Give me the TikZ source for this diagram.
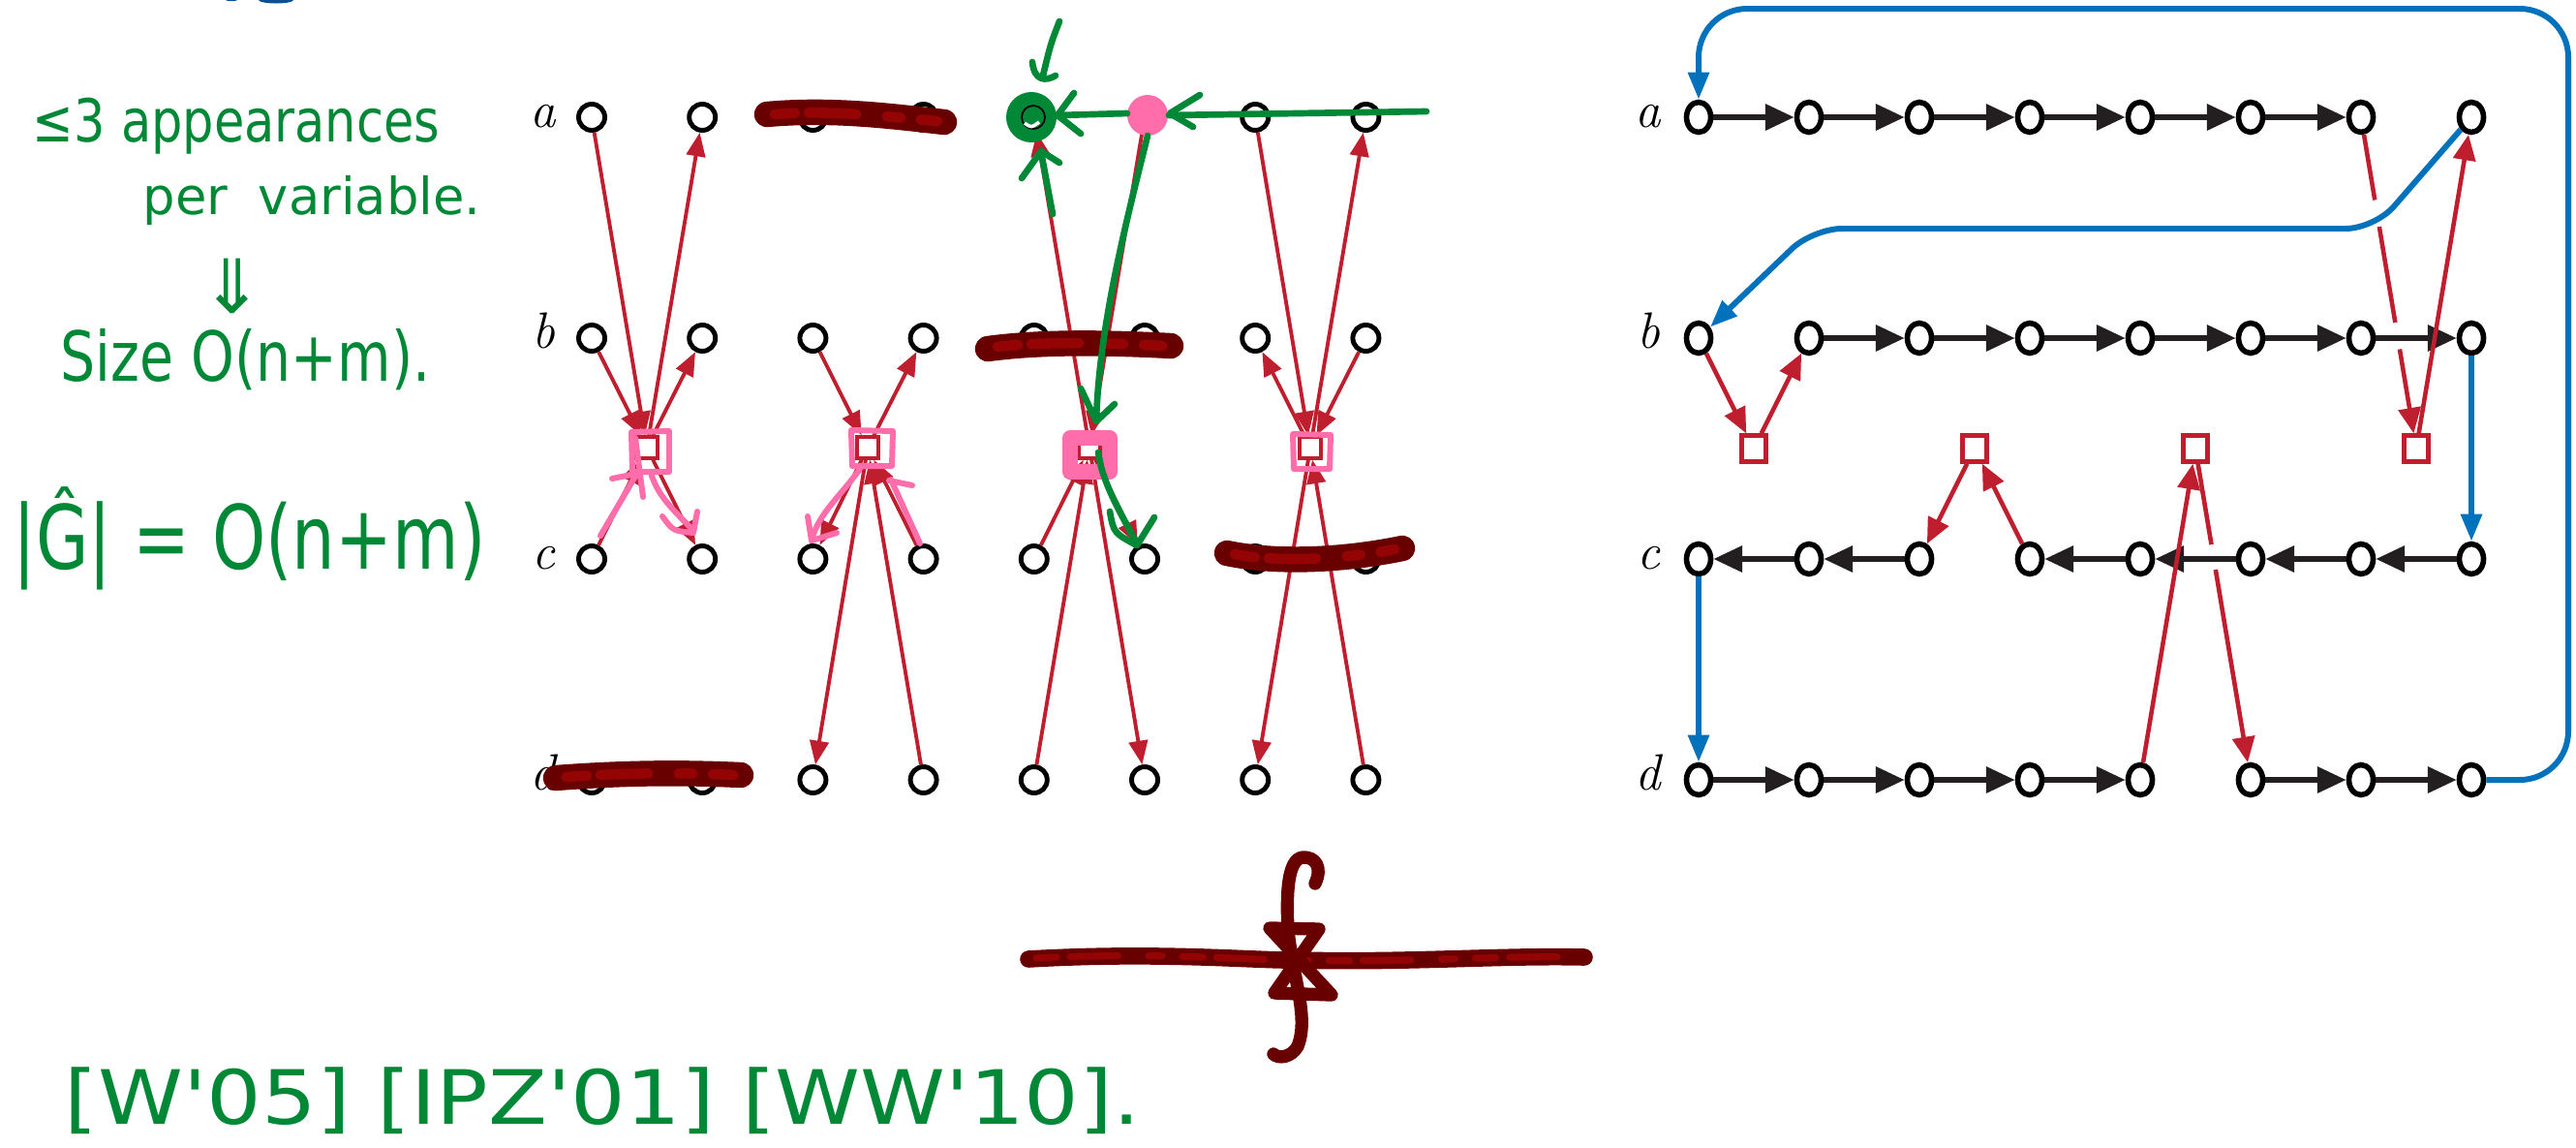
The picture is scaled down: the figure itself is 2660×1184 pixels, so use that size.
\documentclass[tikz,border=0pt]{standalone}
\usepackage{fontspec}
\usepackage{graphicx}
\newfontfamily\hand{DejaVu Sans}
\usetikzlibrary{arrows.meta,shapes.geometric,calc}
\definecolor{cred}{RGB}{190,30,45}
\definecolor{cblue}{RGB}{0,114,188}
\definecolor{cblack}{RGB}{35,31,32}
\definecolor{cgreen}{RGB}{0,136,55}
\definecolor{cpink}{RGB}{255,110,170}
\definecolor{scrib}{RGB}{105,0,0}
\definecolor{scribhi}{RGB}{215,10,10}
\definecolor{hblue}{RGB}{10,80,150}
\begin{document}
\begin{tikzpicture}[x=0.01cm,y=-0.01cm,
  lnode/.style={circle,draw=black,line width=1.4pt,minimum size=0.27cm,inner sep=0pt,fill=white},
  lsq/.style={rectangle,draw=cred,line width=0.9pt,minimum size=0.22cm,inner sep=0pt,fill=white},
  rnode/.style={ellipse,draw=black,line width=1.6pt,minimum width=0.25cm,minimum height=0.31cm,inner sep=0pt,fill=white},
  rsq/.style={rectangle,draw=cred,line width=1.2pt,minimum width=0.25cm,minimum height=0.27cm,inner sep=0pt,fill=white},
  lab/.style={font=\fontsize{15}{17}\selectfont\itshape,inner sep=0pt},
  redarr/.style={draw=cred,line width=1.1pt,-{Triangle[length=7pt,width=5.5pt]}},
  rredarr/.style={draw=cred,line width=1.3pt,-{Triangle[length=7.5pt,width=6.5pt]}},
  blkarr/.style={draw=cblack,line width=1.6pt,-{Triangle[length=8.5pt,width=7.5pt]}},
  bluearr/.style={draw=cblue,line width=1.7pt,-{Triangle[length=8pt,width=6pt]}},
  gapcut/.style={draw=white,line width=3pt},
  scribble/.style={draw=scrib,line width=7.5pt,line cap=round},
  scribhl/.style={draw=scribhi,opacity=0.4,line width=3pt,line cap=round,dash pattern=on 6pt off 4pt on 14pt off 9pt on 4pt off 6pt},
  pinkline/.style={draw=cpink,line width=1.7pt,line cap=round,line join=round},
  greenline/.style={draw=cgreen,line width=1.9pt,line cap=round,line join=round},
  handtxt/.style={text=cgreen,inner sep=0pt,anchor=base west}
]
\useasboundingbox (0,0) rectangle (2660,1184);

% ---------------- nodes ----------------
\foreach \r/\y in {a/121,b/349,c/577,d/805}{
  \node[lab,anchor=base] (Ll\r) at (561,{\y+10}) {\r};
  \node[lab,anchor=base] (Lr\r) at (1702,{\y+10}) {\r};
  \foreach \k in {1,...,8}{
    \node[lnode] (l\r\k) at ({611+114.2*(\k-1)},\y) {};
    \node[rnode] (r\r\k) at ({1754+114*(\k-1)},\y) {};
  }
}
\node[lsq] (ls1) at (668,462) {};
\node[lsq] (ls2) at (896,462) {};
\node[lsq] (ls3) at (1125,462) {};
\node[lsq] (ls4) at (1353,462) {};
\node[rsq] (rs1) at (1811,463) {};
\node[rsq] (rs2) at (2039,463) {};
\node[rsq] (rs3) at (2267,463) {};
\node[rsq] (rs4) at (2495,463) {};

% ---------------- left graph edges ----------------
\draw[redarr] (la1) -- (ls1); \draw[redarr] (ls1) -- (la2);
\draw[redarr] (lb1) -- (ls1); \draw[redarr] (ls1) -- (lb2);
\draw[redarr] (lc1) -- (ls1); \draw[redarr] (ls1) -- (lc2);
\draw[redarr] (lb3) -- (ls2); \draw[redarr] (ls2) -- (lb4);
\draw[redarr] (ls2) -- (lc3); \draw[redarr] (lc4) -- (ls2);
\draw[redarr] (ls2) -- (ld3); \draw[redarr] (ld4) -- (ls2);
\draw[redarr] (la6) -- (ls3); \draw[redarr] (ls3) -- (la5);
\draw[redarr] (lc5) -- (ls3); \draw[redarr] (ls3) -- (lc6);
\draw[redarr] (ld5) -- (ls3); \draw[redarr] (ls3) -- (ld6);
\draw[redarr] (la7) -- (ls4); \draw[redarr] (ls4) -- (la8);
\draw[redarr] (ls4) -- (lb7); \draw[redarr] (lb8) -- (ls4);
\draw[redarr] (ls4) -- (ld7); \draw[redarr] (ld8) -- (ls4);

% ---------------- right graph edges ----------------
\foreach \i/\j in {1/2,2/3,3/4,4/5,5/6,6/7}{\draw[blkarr] (ra\i) -- (ra\j);}
\foreach \i/\j in {2/3,3/4,4/5,5/6,6/7}{\draw[blkarr] (rb\i) -- (rb\j);}
\foreach \i/\j in {2/1,3/2,5/4,7/6,8/7}{\draw[blkarr] (rc\i) -- (rc\j);}
\foreach \i/\j in {1/2,2/3,3/4,4/5,6/7,7/8}{\draw[blkarr] (rd\i) -- (rd\j);}

\draw[rredarr] (ra7) -- (rs4);
\draw[rredarr] (rs3) -- (rd6);
\draw[gapcut] ($(ra7)!0.25!(rs4)$) -- ($(ra7)!0.33!(rs4)$);
\draw[gapcut] ($(ra7)!0.62!(rs4)$) -- ($(ra7)!0.70!(rs4)$);
\draw[gapcut] ($(rs3)!0.29!(rd6)$) -- ($(rs3)!0.365!(rd6)$);

\draw[bluearr,rounded corners=0.3cm] (ra8) -- (2452,236) -- (1872,236) -- (rb1);
\draw[blkarr] (rb7) -- (rb8);
\draw[blkarr] (rc6) -- (rc5);

\draw[rredarr] (rs4) -- (ra8);
\draw[rredarr] (rd5) -- (rs3);
\draw[rredarr] (rb1) -- (rs1); \draw[rredarr] (rs1) -- (rb2);
\draw[rredarr] (rs2) -- (rc3); \draw[rredarr] (rc4) -- (rs2);

\draw[bluearr] (rb8) -- (rc8);
\draw[bluearr] (rc1) -- (rd1);
\draw[bluearr,rounded corners=0.5cm] (rd8) -- (2652,805) -- (2652,9) -- (1754,9) -- (ra1);

% ---------------- scribbles ----------------
\draw[scribble] (792,118) .. controls (860,112) and (920,120) .. (975,126);
\draw[scribhl] (800,118) .. controls (860,113) and (920,121) .. (968,125);
\draw[scribble] (1020,360) .. controls (1080,352) and (1150,354) .. (1209,357);
\draw[scribhl] (1030,358) .. controls (1080,352) and (1150,354) .. (1200,357);
\draw[scribble] (1267,571) .. controls (1320,582) and (1390,578) .. (1448,566);
\draw[scribhl] (1275,572) .. controls (1320,581) and (1390,577) .. (1440,567);
\draw[scribble] (574,803) .. controls (640,798) and (700,797) .. (765,800);
\draw[scribhl] (585,802) .. controls (640,798) and (700,797) .. (758,800);
\draw[scribble,line width=5pt] (1062,990) .. controls (1200,982) and (1300,992) .. (1340,991) .. controls (1450,994) and (1550,986) .. (1636,988);
\draw[scribhl,line width=2pt] (1070,989) .. controls (1200,982) and (1300,992) .. (1340,991) .. controls (1450,994) and (1550,986) .. (1628,988);
\draw[scribble,line width=3.8pt] (1358,912) .. controls (1366,895) and (1358,884) .. (1345,885) .. controls (1330,887) and (1328,920) .. (1330,960) .. controls (1335,1010) and (1352,1050) .. (1340,1080) .. controls (1333,1092) and (1320,1093) .. (1315,1088);
\draw[scribble,line width=3.8pt,line join=round] (1311,958) -- (1362,959) -- (1316,1025) -- (1375,1027) -- cycle;

% ---------------- pink annotations ----------------
\draw[pinkline] (652,446) -- (691,445) -- (691,487) -- (653,487) -- cycle;
\draw[pinkline] (656,452) -- (664,513);
\draw[pinkline] (620,553) -- (657,490);
\draw[pinkline] (632,494) -- (657,489);
\draw[pinkline] (672,488) .. controls (680,515) and (700,530) .. (716,548);
\draw[pinkline] (684,533) .. controls (695,548) .. (716,550) -- (720,528);
\draw[pinkline] (879,444) -- (922,445) -- (921,481) -- (880,481) -- cycle;
\draw[pinkline] (888,484) .. controls (868,512) and (845,530) .. (838,558);
\draw[pinkline] (834,533) -- (838,558) -- (864,550);
\draw[pinkline] (950,561) -- (920,495);
\draw[pinkline] (918,496) -- (942,501);
\draw[pinkline,line width=4.5pt] (1105,452) rectangle (1146,487);
\draw[pinkline] (1335,448) -- (1374,449) -- (1373,484) -- (1336,484) -- cycle;
\fill[cpink] (1185,119) circle (0.21cm);

% ---------------- green annotations ----------------
\fill[cgreen] (1065,121) circle (0.26cm);
\draw[black,line width=0.5pt] (1067,121) circle (0.12cm);
\draw[white,line width=1pt] (1058,127) .. controls (1065,132) .. (1073,126);
\draw[greenline] (1094,22) .. controls (1085,45) .. (1077,78);
\draw[greenline] (1066,64) .. controls (1068,84) and (1080,84) .. (1090,78);
\draw[greenline] (1473,115) -- (1207,119);
\draw[greenline] (1239,98) -- (1208,117) -- (1232,131);
\draw[greenline] (1164,117) -- (1092,119);
\draw[greenline] (1109,96) -- (1092,119) -- (1116,138);
\draw[greenline] (1185,140) .. controls (1160,240) and (1135,340) .. (1132,434);
\draw[greenline] (1116,401) -- (1132,435) -- (1151,417);
\draw[greenline] (1087,221) -- (1075,157);
\draw[greenline] (1055,184) -- (1075,156) -- (1094,168);
\draw[greenline] (1134,467) -- (1137,482) .. controls (1145,510) and (1160,535) .. (1174,561);
\draw[greenline] (1146,528) .. controls (1150,550) .. (1174,563) -- (1192,534);

% ---------------- handwritten text ----------------
\node[handtxt] (t1) at (33,146) {\hand\fontsize{14.5}{17}\selectfont\scalebox{1}[1.2]{≤3 appearances}};
\node[handtxt] (t2) at (147,221) {\hand\fontsize{15}{17}\selectfont per\hspace{0.6em}variable.};
\node[text=cgreen,inner sep=0pt] (t3) at (240,295) {\hand\fontsize{22}{24}\selectfont ⇓};
\node[handtxt] (t4) at (62,393) {\hand\fontsize{16.2}{20}\selectfont\scalebox{1}[1.25]{Size O(n+m).}};
\node[handtxt] (t5) at (13,587) {\hand\fontsize{20}{24}\selectfont\scalebox{1}[1.3]{|Ĝ| = O(n+m)}};
\node[handtxt] (t6) at (66,1160) {\hand\fontsize{22}{26}\selectfont\scalebox{1.15}[1]{[W'05] [IPZ'01] [WW'10].}};

% small blue marks cut by the top edge
\fill[hblue] (285,0) ellipse (0.18cm and 0.035cm);
\fill[hblue] (239,0) ellipse (0.06cm and 0.012cm);
\end{tikzpicture}
\end{document}
